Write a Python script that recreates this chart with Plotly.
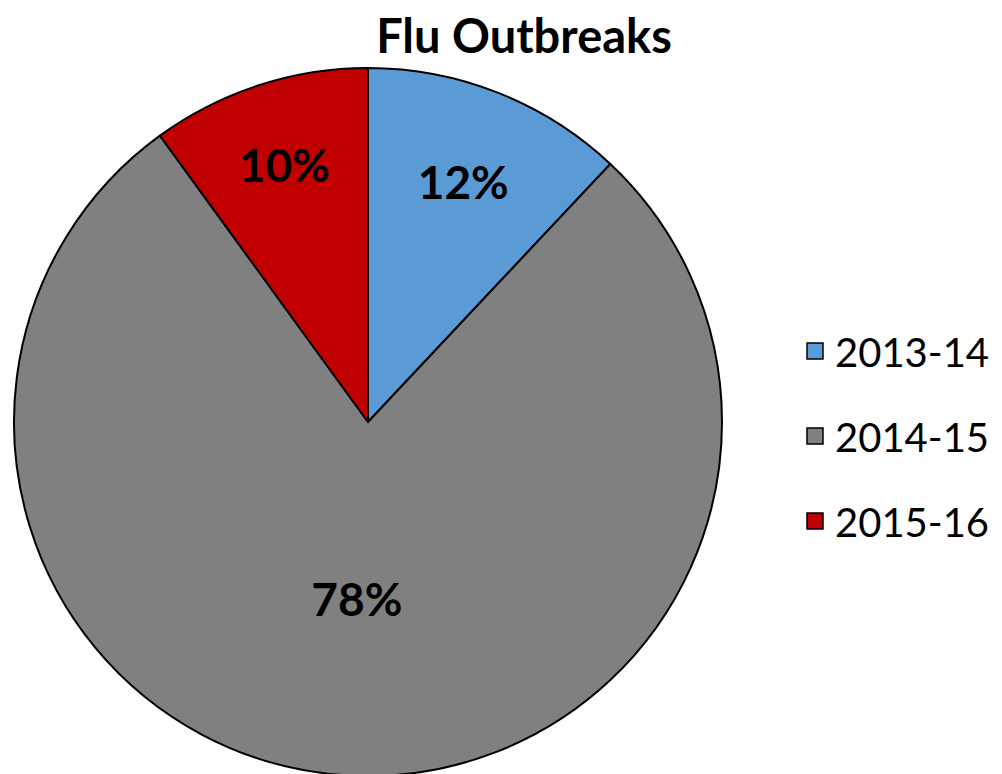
import plotly.graph_objects as go

seasons = ["2013-14", "2014-15", "2015-16"]
shares = [12, 78, 10]
colors = ["#5B9BD5", "#808080", "#C00000"]

W, H = 1002, 774
FONT = "Lato, Open Sans, sans-serif"

fig = go.Figure()
fig.add_trace(go.Pie(
    labels=seasons,
    values=shares,
    sort=False,
    direction="clockwise",
    rotation=0,
    marker=dict(colors=colors, line=dict(color="#000000", width=2)),
    texttemplate="%{percent:.0%}",
    textposition="inside",
    insidetextorientation="horizontal",
    textfont=dict(family=FONT, size=46, color="#000000", weight="bold"),
    domain=dict(x=[6 / W, 714 / W], y=[6 / H, 714 / H]),
    hoverinfo="label+percent",
    showlegend=False,
))

# legend entries (one per season, separate groups so spacing can be set)
for s, c in zip(seasons, colors):
    fig.add_trace(go.Scatter(
        x=[None], y=[None], mode="markers", name=s, legendgroup=s,
        marker=dict(symbol="square", size=16, color=c, line=dict(color="#000000", width=1.5)),
        showlegend=True, hoverinfo="skip",
    ))

fig.update_layout(
    width=W, height=H,
    margin=dict(l=0, r=0, t=0, b=0),
    paper_bgcolor="white",
    plot_bgcolor="rgba(0,0,0,0)",
    xaxis=dict(visible=False),
    yaxis=dict(visible=False),
    title=dict(text="<b>Flu Outbreaks</b>", x=516 / W, xanchor="center", y=1 - 29 / H, yanchor="middle",
               font=dict(family=FONT, size=47, color="#000000")),
    legend=dict(x=787 / W, xanchor="left", y=1 - 428 / H, yanchor="middle",
                font=dict(family=FONT, size=40, color="#000000"),
                itemsizing="trace", tracegroupgap=30, bgcolor="rgba(0,0,0,0)"),
    showlegend=True,
)

fig.write_html("out.html")
